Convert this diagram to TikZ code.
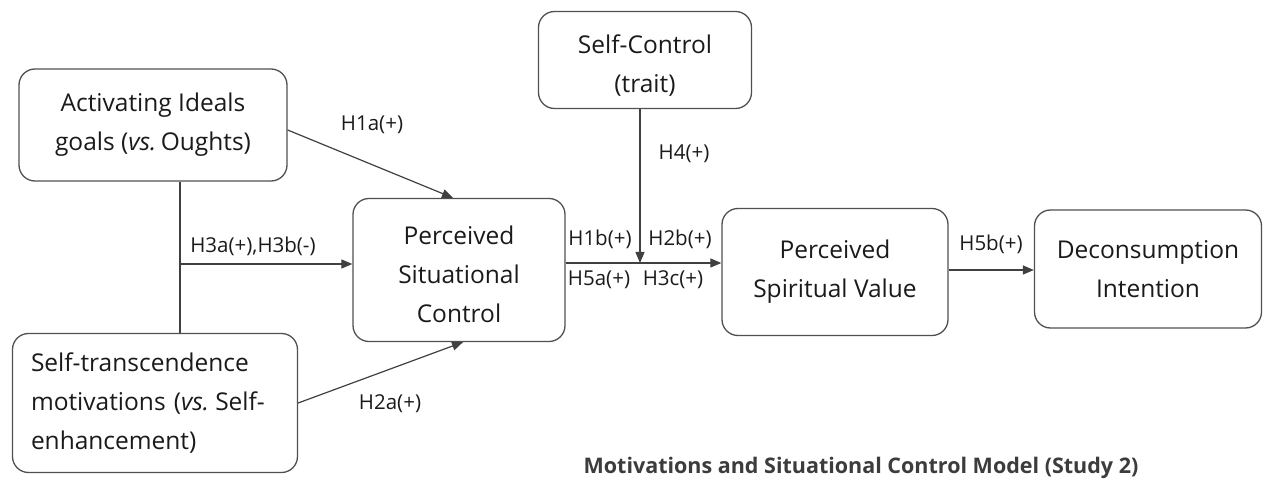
\documentclass[tikz,border=0pt]{standalone}
\usepackage{fontspec}
\setmainfont{Open Sans}
\usetikzlibrary{arrows.meta}
\definecolor{boxgray}{HTML}{505050}
\definecolor{linegray}{HTML}{404040}
\definecolor{txt}{HTML}{1A1A1A}
\begin{document}
\begin{tikzpicture}[x=1pt,y=-1pt,
  box/.style={draw=boxgray, line width=1.3pt, rounded corners=16pt, align=center,
    font=\fontsize{24.5}{39}\selectfont, text=txt, inner sep=0pt},
  lab/.style={font=\fontsize{20.5}{24}\selectfont, text=txt, inner sep=0pt},
  arr/.style={draw=linegray, line width=1.2pt, -{Triangle[length=11pt,width=9pt]}},
  ln/.style={draw=linegray, line width=1.2pt}]
\useasboundingbox (0,0) rectangle (1264,486);
\node[box, minimum width=268pt, minimum height=112pt] (act) at (153,125)
  {Activating Ideals\\goals (\textit{vs.}\kern-2pt\ Oughts)};
\node[box, minimum width=285pt, minimum height=139pt, text width=248pt, align=left] (st) at (155,403)
  {Self-transcendence\\motivations (\textit{vs.}\kern-2pt\ Self-\\enhancement)};
\node[box, minimum width=212pt, minimum height=143pt] (psc) at (459,270)
  {\rule{0pt}{27pt}Perceived\\Situational\\Control};
\node[box, minimum width=213pt, minimum height=97pt] (sc) at (645,60)
  {\rule{0pt}{29pt}Self-Control\\(trait)};
\node[box, minimum width=226pt, minimum height=127pt] (psv) at (835,272)
  {Perceived\\Spiritual Value};
\node[box, minimum width=227pt, minimum height=118pt] (dec) at (1148,269)
  {Deconsumption\\Intention};

\coordinate (j1) at (180,264);
\coordinate (m) at (640,263);
\draw[ln] (act.south -| j1) -- (st.north -| j1);
\draw[arr] (j1) -- (j1 -| psc.west);
\draw[arr] ([yshift=-5pt]act.east) -- ([xshift=-6pt]psc.north);
\draw[arr] (st.east) -- ([xshift=4pt]psc.south);
\draw[arr] (psc.east |- m) -- (psv.west |- m);
\draw[arr] (sc.south -| m) -- (m);
\draw[arr] (psv.east |- 0,270) -- (dec.west |- 0,270);

\node[lab] (l1) at (372,125) {H1a(+)};
\node[lab] (l2) at (253,246) {H3a(+),H3b(-)};
\node[lab] (l3) at (390,404) {H2a(+)};
\node[lab] (l4) at (684,154) {H4(+)};
\node[lab] (l5) at (600,239) {H1b(+)};
\node[lab] (l6) at (680,239) {H2b(+)};
\node[lab] (l7) at (599,280) {H5a(+)};
\node[lab] (l8) at (673,280) {H3c(+)};
\node[lab] (l9) at (991,244) {H5b(+)};
\node[font=\bfseries\fontsize{21.5}{24}\selectfont, text=txt!85!white, inner sep=0pt] (cap) at (861,468)
  {Motivations and Situational Control Model (Study 2)};
\end{tikzpicture}
\end{document}
